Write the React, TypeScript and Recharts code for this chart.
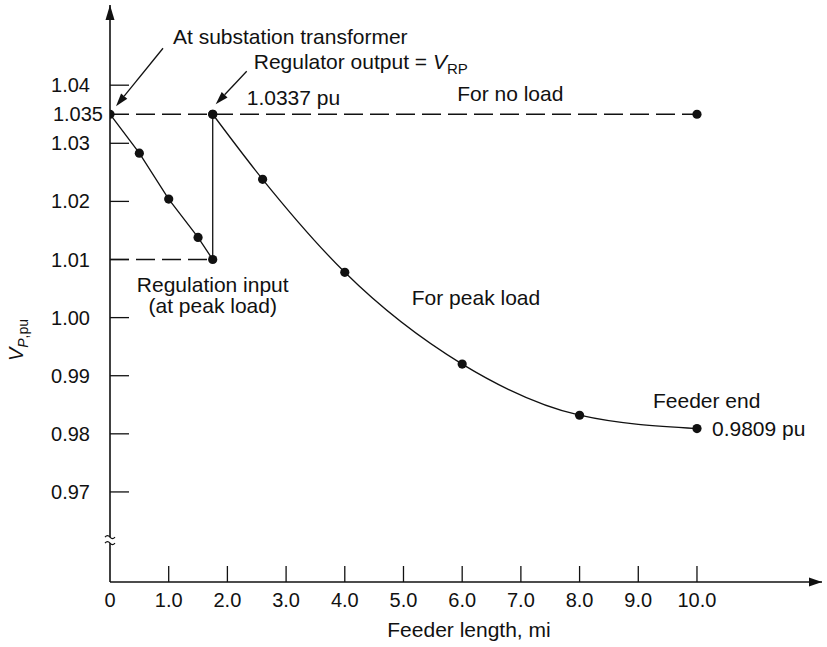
import React from "react";
import { LineChart, Line, XAxis, YAxis, ReferenceLine, ReferenceDot } from "recharts";

// feeder voltage profile, per-unit vs miles from substation
const noLoadMiles = [0, 10];
const noLoadPu = [1.035, 1.035];
const peakNearMiles = [0, 0.5, 1.0, 1.5, 1.75, 1.75];
const peakNearPu = [1.035, 1.0283, 1.0204, 1.0138, 1.01, 1.035];
const peakFarMiles = [1.75, 2.6, 4.0, 6.0, 8.0, 10.0];
const peakFarPu = [1.035, 1.0238, 1.0078, 0.992, 0.9832, 0.9809];

const xTicks = [0, 1, 2, 3, 4, 5, 6, 7, 8, 9, 10];
const yTicks = [0.97, 0.98, 0.99, 1.0, 1.01, 1.02, 1.03, 1.035, 1.04];
const xDomain = [0, 12.13];
const yDomain = [0.9545, 1.0538];
const axisBreakPu = 0.9617;

const regulatorMile = 1.75;
const regulatorInputPu = 1.01;
const sourcePu = 1.035;

const INK = "#111";
const FONT = "'Liberation Sans', Arial, Helvetica, sans-serif";

const rows = (xs: number[], ys: number[]) => xs.map((mi, i) => ({ mi, pu: ys[i] }));

const txt = (x: number, y: number, s: React.ReactNode, anchor = "start") => (
  <text x={x} y={y} fontSize={21} fontFamily={FONT} fill={INK} textAnchor={anchor}>
    {s}
  </text>
);

function arrow(x1: number, y1: number, x2: number, y2: number) {
  const a = Math.atan2(y2 - y1, x2 - x1);
  const L = 13;
  const w = 4;
  const bx = x2 - L * Math.cos(a);
  const by = y2 - L * Math.sin(a);
  const px = -Math.sin(a) * w;
  const py = Math.cos(a) * w;
  return (
    <g>
      <line x1={x1} y1={y1} x2={bx} y2={by} stroke={INK} strokeWidth={1.3} />
      <polygon points={`${x2},${y2} ${bx + px},${by + py} ${bx - px},${by - py}`} fill={INK} />
    </g>
  );
}

function XTick(p: any) {
  const { x, y, payload } = p;
  const v = payload.value;
  return (
    <g>
      {v > 0 && <line x1={x} x2={x} y1={y} y2={y - 16} stroke={INK} strokeWidth={1.3} />}
      <text x={x} y={y + 25} textAnchor="middle" fontSize={20} fontFamily={FONT} fill={INK}>
        {v === 0 ? "0" : v.toFixed(1)}
      </text>
    </g>
  );
}

function YTick(p: any) {
  const { x, y, payload } = p;
  const v = payload.value;
  const mid = Math.abs(v - 1.035) < 1e-6;
  return (
    <g>
      {!mid && <line x1={x} x2={x + 19} y1={y} y2={y} stroke={INK} strokeWidth={1.3} />}
      <text x={mid ? x - 7 : x - 20} y={y + 7} textAnchor="end" fontSize={20} fontFamily={FONT} fill={INK}>
        {mid ? "1.035" : v.toFixed(2)}
      </text>
    </g>
  );
}

export default function App() {
  const lastNoLoad = noLoadMiles.length - 1;
  return (
    <div style={{ position: "absolute", left: 0, top: 0, background: "#fff" }}>
      <LineChart width={827} height={647} margin={{ top: 5, right: 5, bottom: 35, left: 50 }}>
        <XAxis
          type="number"
          dataKey="mi"
          domain={xDomain}
          allowDataOverflow
          ticks={xTicks}
          interval={0}
          height={30}
          tickSize={0}
          tickMargin={0}
          axisLine={{ stroke: INK, strokeWidth: 1.6 }}
          tick={(p: any) => <XTick {...p} />}
          label={{
            content: () => (
              <text x={469} y={637} textAnchor="middle" fontSize={21} fontFamily={FONT} fill={INK}>
                Feeder length, mi
              </text>
            ),
          }}
        />
        <YAxis
          type="number"
          dataKey="pu"
          domain={yDomain}
          allowDataOverflow
          ticks={yTicks}
          interval={0}
          width={60}
          tickSize={0}
          tickMargin={0}
          axisLine={{ stroke: INK, strokeWidth: 1.6 }}
          tick={(p: any) => <YTick {...p} />}
          label={{
            content: () => (
              <text
                x={23}
                y={340}
                transform="rotate(-90 23 340)"
                textAnchor="middle"
                fontSize={20}
                fontFamily={FONT}
                fill={INK}
              >
                <tspan fontStyle="italic">V</tspan>
                <tspan fontSize={14} dy={5} fontStyle="italic">P</tspan>
                <tspan fontSize={14}>,pu</tspan>
              </text>
            ),
          }}
        />

        <ReferenceLine
          segment={[{ x: 0, y: regulatorInputPu }, { x: regulatorMile, y: regulatorInputPu }]}
          stroke={INK}
          strokeWidth={1.3}
          strokeDasharray="19 7"
        />

        <Line
          data={rows(noLoadMiles, noLoadPu)}
          dataKey="pu"
          type="linear"
          stroke={INK}
          strokeWidth={1.3}
          strokeDasharray="19 7"
          isAnimationActive={false}
          dot={(d: any) =>
            d.index === lastNoLoad ? (
              <circle key={d.index} cx={d.cx} cy={d.cy} r={4.6} fill={INK} />
            ) : (
              <g key={d.index} />
            )
          }
        />
        <Line
          data={rows(peakNearMiles, peakNearPu)}
          dataKey="pu"
          type="linear"
          stroke={INK}
          strokeWidth={1.3}
          isAnimationActive={false}
          dot={{ r: 4.6, fill: INK, stroke: INK, strokeWidth: 0 }}
        />
        <Line
          data={rows(peakFarMiles, peakFarPu)}
          dataKey="pu"
          type="monotone"
          stroke={INK}
          strokeWidth={1.3}
          isAnimationActive={false}
          dot={{ r: 4.6, fill: INK, stroke: INK, strokeWidth: 0 }}
        />

        {/* axis arrows and break */}
        <ReferenceDot
          x={xDomain[1]}
          y={yDomain[0]}
          ifOverflow="visible"
          shape={(s: any) => (
            <polygon points={`${s.cx},${s.cy} ${s.cx - 13},${s.cy - 4.5} ${s.cx - 13},${s.cy + 4.5}`} fill={INK} />
          )}
        />
        <ReferenceDot
          x={0}
          y={yDomain[1]}
          ifOverflow="visible"
          shape={(s: any) => (
            <polygon points={`${s.cx},${s.cy} ${s.cx - 4.5},${s.cy + 15} ${s.cx + 4.5},${s.cy + 15}`} fill={INK} />
          )}
        />
        <ReferenceDot
          x={0}
          y={axisBreakPu}
          ifOverflow="visible"
          shape={(s: any) => (
            <g>
              <rect x={s.cx - 6} y={s.cy - 3} width={12} height={6} fill="#fff" />
              <path
                d={`M${s.cx - 5},${s.cy - 3} Q${s.cx - 2.5},${s.cy - 6} ${s.cx},${s.cy - 3} T${s.cx + 5},${s.cy - 3}`}
                fill="none"
                stroke={INK}
                strokeWidth={1.2}
              />
              <path
                d={`M${s.cx - 5},${s.cy + 3} Q${s.cx - 2.5},${s.cy} ${s.cx},${s.cy + 3} T${s.cx + 5},${s.cy + 3}`}
                fill="none"
                stroke={INK}
                strokeWidth={1.2}
              />
            </g>
          )}
        />

        {/* annotations, anchored on the data points */}
        <ReferenceDot
          x={0}
          y={sourcePu}
          ifOverflow="visible"
          shape={(s: any) => (
            <g>
              {txt(s.cx + 63, s.cy - 70, "At substation transformer")}
              {arrow(s.cx + 53, s.cy - 66, s.cx + 6, s.cy - 8)}
            </g>
          )}
        />
        <ReferenceDot
          x={regulatorMile}
          y={sourcePu}
          ifOverflow="visible"
          shape={(s: any) => (
            <g>
              {txt(
                s.cx + 41,
                s.cy - 45,
                <>
                  {"Regulator output = "}
                  <tspan fontStyle="italic">V</tspan>
                  <tspan fontSize={15} dy={5}>RP</tspan>
                </>
              )}
              {arrow(s.cx + 34, s.cy - 43, s.cx + 3, s.cy - 10)}
              {txt(s.cx + 34, s.cy - 9, "1.0337 pu")}
            </g>
          )}
        />
        <ReferenceDot
          x={6}
          y={sourcePu}
          ifOverflow="visible"
          shape={(s: any) => txt(s.cx - 5, s.cy - 13, "For no load")}
        />
        <ReferenceDot
          x={regulatorMile}
          y={regulatorInputPu}
          ifOverflow="visible"
          shape={(s: any) => (
            <g>
              {txt(s.cx, s.cy + 32, "Regulation input", "middle")}
              {txt(s.cx, s.cy + 53, "(at peak load)", "middle")}
            </g>
          )}
        />
        <ReferenceDot
          x={4}
          y={1.0078}
          ifOverflow="visible"
          shape={(s: any) => txt(s.cx + 67, s.cy + 33, "For peak load")}
        />
        <ReferenceDot
          x={10}
          y={0.9809}
          ifOverflow="visible"
          shape={(s: any) => (
            <g>
              {txt(s.cx - 44, s.cy - 21, "Feeder end")}
              {txt(s.cx + 15, s.cy + 7, "0.9809 pu")}
            </g>
          )}
        />
      </LineChart>
    </div>
  );
}
